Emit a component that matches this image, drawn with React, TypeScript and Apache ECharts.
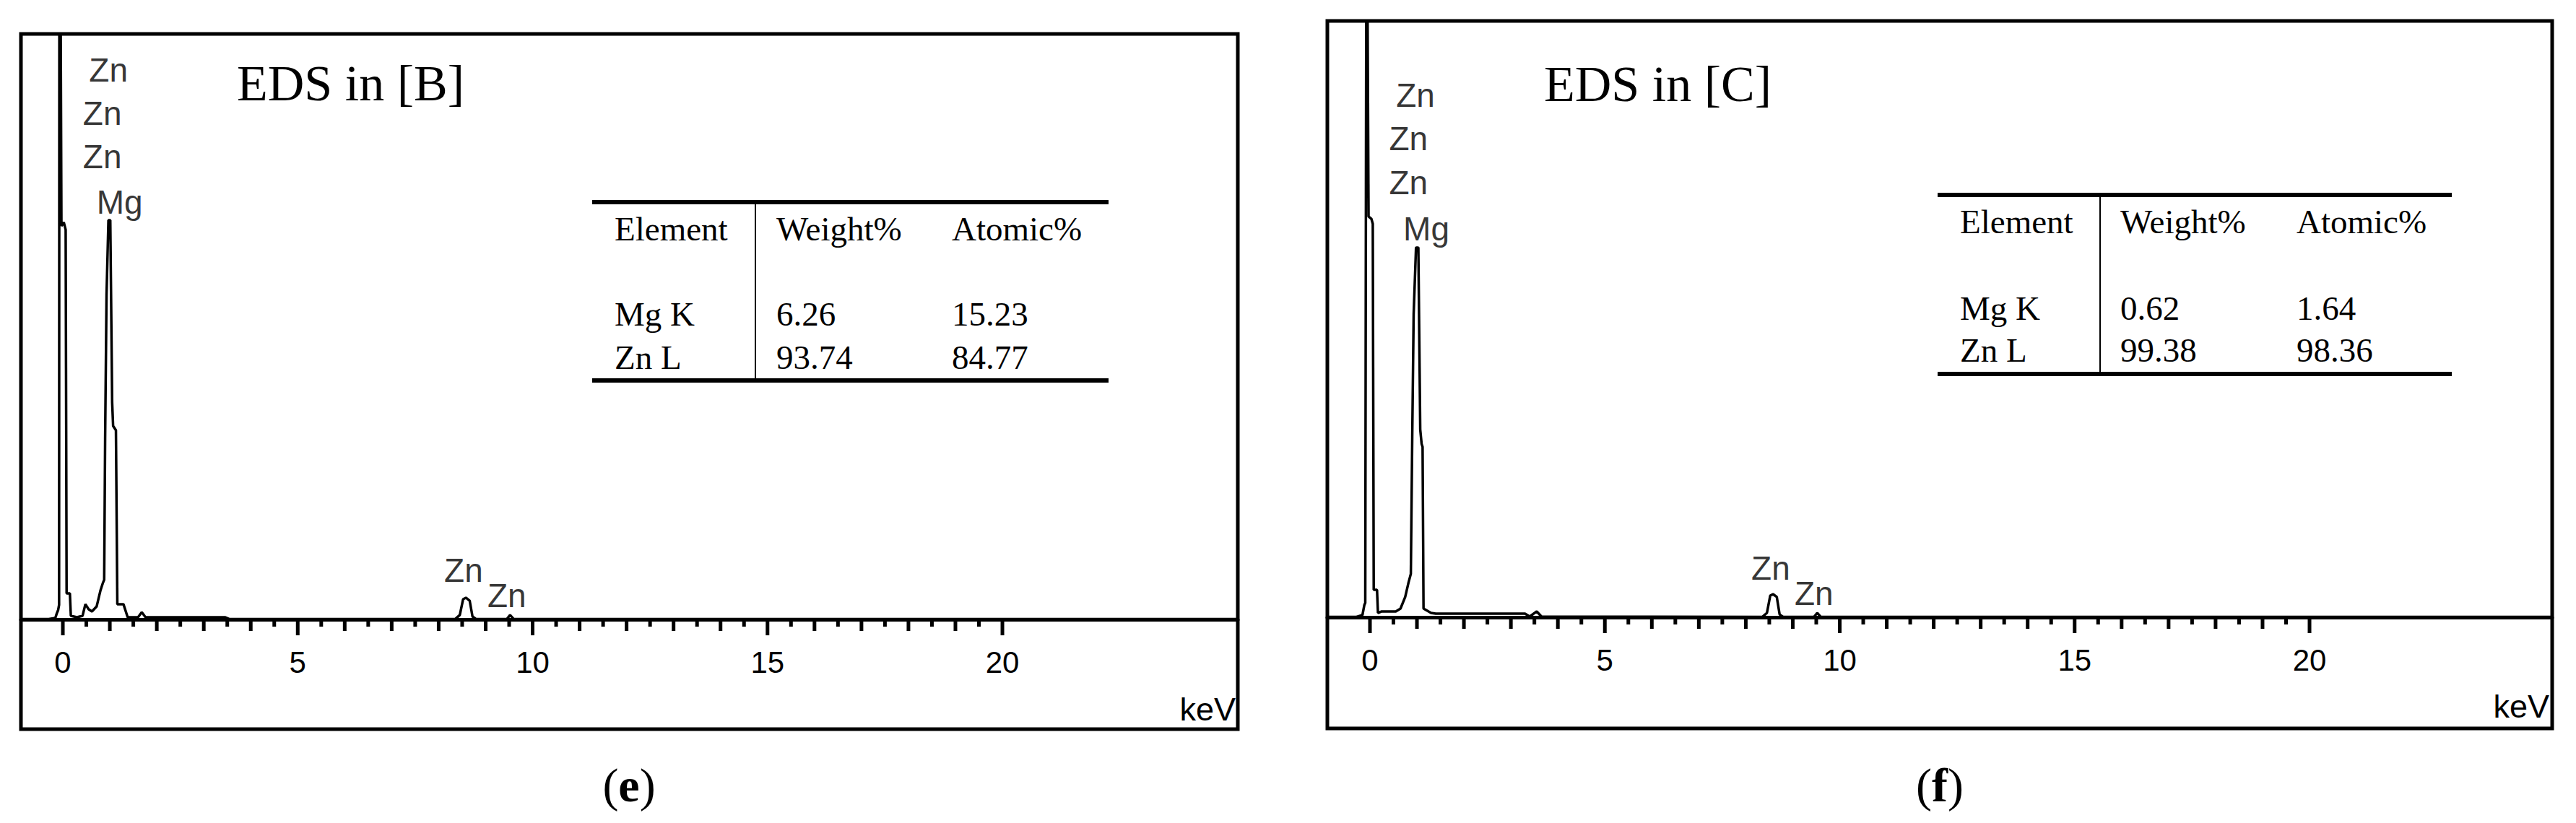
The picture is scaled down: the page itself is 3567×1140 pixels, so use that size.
import React, { useEffect, useRef } from "react";
import * as echarts from "echarts";

// ---------- DATA ----------
// Spectrum of point [B] (energy in keV, counts)
const ENERGY_B = [-0.892, -0.3, -0.16, -0.13, -0.1, -0.08, -0.075, -0.045, -0.03, 0.02, 0.06, 0.08, 0.15, 0.17, 0.3, 0.42, 0.48, 0.55, 0.62, 0.72, 0.8, 0.85, 0.88, 0.9, 0.93, 0.97, 1.01, 1.05, 1.07, 1.13, 1.16, 1.29, 1.38, 1.6, 1.68, 1.76, 3.45, 3.55, 8.35, 8.45, 8.52, 8.58, 8.66, 8.72, 8.8, 9.45, 9.52, 9.6, 25.01];
const COUNTS_B = [2, 2, 10, 40, 64, 99, 4000, 4000, 2688, 2713, 2663, 178, 178, 25, 15, 25, 104, 69, 54, 89, 197, 247, 271, 1233, 2219, 2727, 2727, 1480, 1322, 1292, 104, 104, 15, 15, 49, 15, 15, 2, 2, 30, 138, 148, 128, 20, 2, 2, 30, 2, 2];

// Spectrum of point [C]
const ENERGY_C = [-0.907, -0.3, -0.16, -0.12, -0.1, -0.08, -0.05, -0.03, 0.03, 0.06, 0.08, 0.15, 0.17, 0.25, 0.55, 0.65, 0.75, 0.82, 0.87, 0.9, 0.93, 0.98, 1.03, 1.07, 1.1, 1.12, 1.14, 1.3, 1.4, 3.3, 3.4, 3.55, 3.65, 8.35, 8.45, 8.52, 8.58, 8.66, 8.72, 8.8, 9.45, 9.52, 9.6, 25.165];
const COUNTS_C = [2, 2, 15, 82, 97, 4000, 4000, 2688, 2673, 2639, 184, 184, 29, 39, 39, 58, 136, 232, 291, 1211, 2034, 2480, 2480, 1259, 1162, 1143, 58, 29, 24, 24, 5, 39, 5, 2, 29, 145, 155, 136, 19, 2, 2, 29, 2, 2];

// Peak annotations
const PEAK_NAMES = ["Zn", "Zn", "Zn", "Mg", "Zn", "Zn"];
const PEAK_E_B = [0.97, 0.84, 0.84, 1.21, 8.53, 9.45];
const PEAK_C_B = [3753, 3457, 3161, 2851, 335, 163];
const PEAK_E_C = [0.97, 0.82, 0.82, 1.2, 8.53, 9.45];
const PEAK_C_C = [3502, 3211, 2916, 2606, 329, 160];

// Axis ticks (keV)
const LABEL_TICKS = [0, 5, 10, 15, 20];
const KEV_TICKS: number[] = [];
for (let i = 0; i <= 20; i++) KEV_TICKS.push(i);
const HALF_TICKS: number[] = [];
for (let i = 0; i < 20; i++) HALF_TICKS.push(i + 0.5);

// Composition tables
const TABLE_HEADERS = ["Element", "Weight%", "Atomic%"];
const TABLE_ELEMENTS = ["Mg K", "Zn L"];
const WEIGHT_B = ["6.26", "93.74"];
const ATOMIC_B = ["15.23", "84.77"];
const WEIGHT_C = ["0.62", "99.38"];
const ATOMIC_C = ["1.64", "98.36"];

const TITLES = ["EDS in [B]", "EDS in [C]"];
const CAPTIONS = ["e", "f"];

// ---------- LAYOUT ----------
const TICK_LEN_MAJOR = 22;
const TICK_LEN_KEV = 16;
const TICK_LEN_HALF = 10;
const TICK_WIDTH = 5;
const PANELS = [
  {
    frame: { x: 29, y: 47, w: 1685, h: 963 },
    grid: { left: 29, top: 47, width: 1685, height: 811 },
    xMin: -0.892, xMax: 25.011,
    energy: ENERGY_B, counts: COUNTS_B, peakE: PEAK_E_B, peakC: PEAK_C_B,
    title: TITLES[0], titleX: 328, titleY: 115,
    table: { x1: 820, x2: 1535, top: 280, bottom: 527, div: 1046, colX: [851, 1075, 1318], rowY: [317, 435, 495] },
    weight: WEIGHT_B, atomic: ATOMIC_B,
    caption: CAPTIONS[0], captionX: 871, captionY: 1087,
    keVX: 1711, keVY: 982,
  },
  {
    frame: { x: 1838, y: 29, w: 1696, h: 980 },
    grid: { left: 1838, top: 29, width: 1696, height: 826 },
    xMin: -0.907, xMax: 25.165,
    energy: ENERGY_C, counts: COUNTS_C, peakE: PEAK_E_C, peakC: PEAK_C_C,
    title: TITLES[1], titleX: 2138, titleY: 116,
    table: { x1: 2683, x2: 3395, top: 270, bottom: 518, div: 2908, colX: [2714, 2936, 3180], rowY: [307, 427, 485] },
    weight: WEIGHT_C, atomic: ATOMIC_C,
    caption: CAPTIONS[1], captionX: 2686, captionY: 1087,
    keVX: 3530, keVY: 978,
  },
];

const SANS = "Liberation Sans, Arial, sans-serif";
const SERIF = "Liberation Serif, Times New Roman, serif";

function tickSeries(xAxisIndex: number, yAxisIndex: number, values: number[], len: number) {
  return {
    type: "custom",
    xAxisIndex,
    yAxisIndex,
    clip: false,
    silent: true,
    data: values.map((v) => [v, 0]),
    renderItem: (_params: any, api: any) => {
      const p = api.coord([api.value(0), 0]);
      return {
        type: "rect",
        shape: { x: p[0] - TICK_WIDTH / 2, y: p[1], width: TICK_WIDTH, height: len },
        style: { fill: "#000" },
      };
    },
    z: 5,
  };
}

function buildOption() {
  const grid: any[] = [];
  const xAxis: any[] = [];
  const yAxis: any[] = [];
  const series: any[] = [];
  const graphic: any[] = [];

  PANELS.forEach((p, i) => {
    grid.push({ ...p.grid, containLabel: false, show: false });
    yAxis.push({ type: "value", gridIndex: i, min: 0, max: 4000, show: false });
    xAxis.push({
      type: "value",
      gridIndex: i,
      min: p.xMin,
      max: p.xMax,
      position: "bottom",
      axisLine: { show: true, onZero: false, lineStyle: { color: "#000", width: 5 } },
      axisTick: { show: false },
      axisLabel: {
        show: true,
        customValues: LABEL_TICKS,
        fontSize: 42,
        fontFamily: SANS,
        color: "#000",
        margin: 38,
      },
      splitLine: { show: false },
    });

    series.push({
      type: "line",
      xAxisIndex: i,
      yAxisIndex: i,
      data: p.energy.map((e, k) => [e, p.counts[k]]),
      showSymbol: false,
      symbol: "none",
      clip: true,
      lineStyle: { color: "#000", width: 3.5 },
      z: 3,
    });
    series.push(tickSeries(i, i, HALF_TICKS, TICK_LEN_HALF));
    series.push(tickSeries(i, i, KEV_TICKS.filter((v) => LABEL_TICKS.indexOf(v) < 0), TICK_LEN_KEV));
    series.push(tickSeries(i, i, LABEL_TICKS, TICK_LEN_MAJOR));
    series.push({
      type: "scatter",
      xAxisIndex: i,
      yAxisIndex: i,
      data: PEAK_NAMES.map((n, k) => ({ name: n, value: [p.peakE[k], p.peakC[k]] })),
      symbolSize: 1,
      itemStyle: { color: "rgba(0,0,0,0)" },
      clip: false,
      silent: true,
      label: {
        show: true,
        position: "inside",
        formatter: "{b}",
        fontSize: 46,
        fontFamily: SANS,
        color: "#000",
      },
      z: 4,
    });

    // frame
    graphic.push({
      type: "rect",
      shape: { x: p.frame.x, y: p.frame.y, width: p.frame.w, height: p.frame.h },
      style: { fill: "none", stroke: "#000", lineWidth: 5 },
      z: 10,
    });
    // title
    graphic.push({
      type: "text",
      x: p.titleX,
      y: p.titleY,
      style: { text: p.title, fontSize: 70, fontFamily: SERIF, fill: "#000", align: "left", verticalAlign: "middle" },
      z: 10,
    });
    // keV
    graphic.push({
      type: "text",
      x: p.keVX,
      y: p.keVY,
      style: { text: "keV", fontSize: 45, fontFamily: SANS, fill: "#000", align: "right", verticalAlign: "middle" },
      z: 10,
    });
    // table
    const t = p.table;
    graphic.push({ type: "line", shape: { x1: t.x1, y1: t.top, x2: t.x2, y2: t.top }, style: { stroke: "#000", lineWidth: 6 }, z: 10 });
    graphic.push({ type: "line", shape: { x1: t.x1, y1: t.bottom, x2: t.x2, y2: t.bottom }, style: { stroke: "#000", lineWidth: 6 }, z: 10 });
    graphic.push({ type: "line", shape: { x1: t.div, y1: t.top, x2: t.div, y2: t.bottom }, style: { stroke: "#000", lineWidth: 2 }, z: 10 });
    const rows = [TABLE_HEADERS, [TABLE_ELEMENTS[0], p.weight[0], p.atomic[0]], [TABLE_ELEMENTS[1], p.weight[1], p.atomic[1]]];
    rows.forEach((r, ri) => {
      r.forEach((cell, ci) => {
        graphic.push({
          type: "text",
          x: t.colX[ci],
          y: t.rowY[ri],
          style: { text: cell, fontSize: 47, fontFamily: SERIF, fill: "#000", align: "left", verticalAlign: "middle" },
          z: 10,
        });
      });
    });
    // caption
    graphic.push({
      type: "text",
      x: p.captionX,
      y: p.captionY,
      style: {
        text: "{p|(}{b|" + p.caption + "}{p|)}",
        align: "center",
        verticalAlign: "middle",
        fill: "#000",
        rich: {
          p: { fontSize: 66, fontFamily: SERIF, fill: "#000" },
          b: { fontSize: 66, fontFamily: SERIF, fontWeight: "bold", fill: "#000" },
        },
      },
      z: 10,
    });
  });

  return {
    animation: false,
    backgroundColor: "#fff",
    grid,
    xAxis,
    yAxis,
    series,
    graphic,
  };
}

export default function App() {
  const ref = useRef<HTMLDivElement>(null);
  useEffect(() => {
    if (!ref.current) return;
    const chart = echarts.init(ref.current, undefined, { renderer: "svg" });
    chart.setOption(buildOption() as any);
    return () => chart.dispose();
  }, []);
  return (
    <div
      ref={ref}
      style={{ position: "fixed", left: 0, top: 0, width: 3567, height: 1140, background: "#fff" }}
    />
  );
}
